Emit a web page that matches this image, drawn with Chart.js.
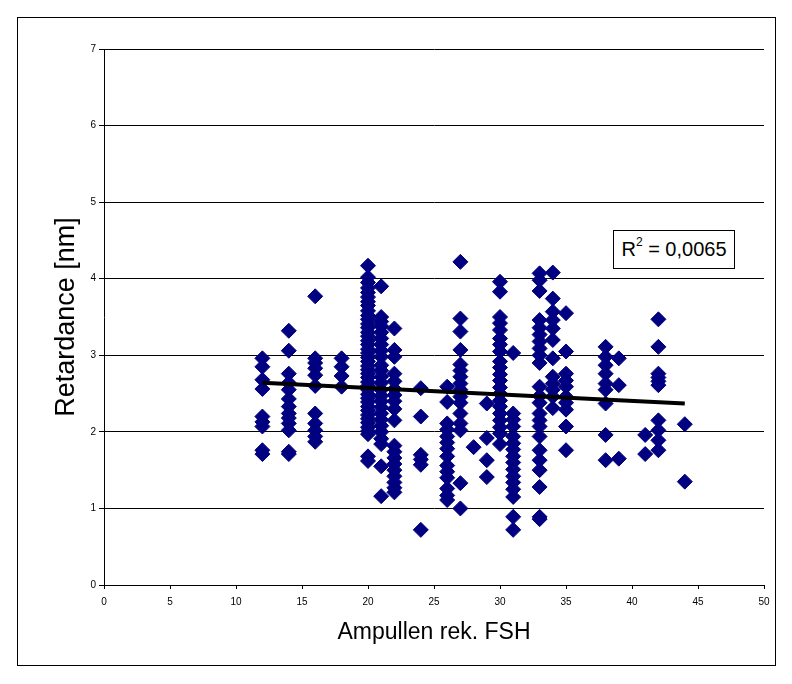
<!DOCTYPE html>
<html>
<head>
<meta charset="utf-8">
<script src="https://cdn.jsdelivr.net/npm/chart.js@4/dist/chart.umd.min.js"></script>
<style>
  html, body { margin: 0; padding: 0; background: #fff; }
  #wrap { position: relative; width: 792px; height: 684px; }
  #frame { position: absolute; left: 17px; top: 17px; width: 757px; height: 647px; border: 1px solid #000; pointer-events: none; }
  #r2 { position: absolute; left: 613px; top: 230px; width: 120px; height: 37px; border: 1px solid #000; background: #fff;
        font-family: "Liberation Sans", Arial, sans-serif; font-size: 20px; line-height: 37px; text-align: center; color: #000; }
  #r2 sup { font-size: 12px; line-height: 0; position: relative; top: -2px; }
</style>
</head>
<body>
<div id="wrap">
  <canvas id="c" width="792" height="684"></canvas>
  <div id="frame"></div>
  <div id="r2">R<sup>2</sup> = 0,0065</div>
</div>
<script>
// Doses (x categories) and retardance readings per dose
const doses = [12, 14, 16, 18, 20, 21, 22, 24, 26, 27, 28, 29, 30, 31, 33, 34, 35, 38, 39, 41, 42, 44];
const r12 = [2.96, 2.85, 2.68, 2.56, 2.20, 2.13, 2.07, 1.76, 1.71];
const r14 = [3.32, 3.06, 2.76, 2.64, 2.55, 2.43, 2.33, 2.24, 2.18, 2.11, 2.02, 1.74, 1.71];
const r16 = [3.77, 2.96, 2.90, 2.83, 2.74, 2.60, 2.24, 2.11, 2.02, 1.94, 1.87];
const r18 = [2.96, 2.85, 2.73, 2.59];
const r20 = [4.17, 4.02, 3.95, 3.88, 3.82, 3.76, 3.70, 3.65, 3.58, 3.52, 3.47, 3.41, 3.36, 3.30, 3.25, 3.19, 3.14, 3.08, 3.03, 2.97, 2.92, 2.86, 2.81, 2.76, 2.71, 2.65, 2.60, 2.55, 2.49, 2.44, 2.39, 2.33, 2.28, 2.22, 2.17, 2.12, 2.06, 2.01, 1.97, 1.68, 1.62];
const r21 = [3.90, 3.50, 3.44, 3.38, 3.30, 3.22, 3.14, 3.06, 2.98, 2.87, 2.80, 2.72, 2.64, 2.55, 2.47, 2.40, 2.32, 2.24, 2.16, 2.08, 2.00, 1.91, 1.84, 1.55, 1.16];
const r22 = [3.35, 3.07, 2.98, 2.76, 2.66, 2.56, 2.48, 2.40, 2.30, 2.15, 1.82, 1.74, 1.66, 1.58, 1.50, 1.42, 1.34, 1.27, 1.21];
const r24 = [2.57, 2.20, 1.70, 1.64, 1.57, 0.72];
const r26 = [2.59, 2.39, 2.11, 2.03, 1.94, 1.86, 1.78, 1.68, 1.56, 1.48, 1.40, 1.26, 1.17, 1.11];
const r27 = [4.22, 3.48, 3.31, 3.07, 2.88, 2.80, 2.72, 2.63, 2.55, 2.46, 2.38, 2.24, 2.11, 2.02, 1.33, 1.00];
const r28 = [1.80];
const r29 = [2.37, 1.92, 1.63, 1.41];
const r30 = [3.96, 3.83, 3.50, 3.42, 3.33, 3.22, 3.14, 3.05, 2.92, 2.84, 2.75, 2.67, 2.58, 2.50, 2.41, 2.33, 2.24, 2.15, 2.06, 1.98, 1.84];
const r31 = [3.03, 2.24, 2.16, 2.07, 1.94, 1.85, 1.77, 1.68, 1.60, 1.51, 1.42, 1.34, 1.25, 1.15, 0.89, 0.72];
const r33 = [4.07, 3.98, 3.84, 3.46, 3.36, 3.27, 3.18, 3.09, 3.00, 2.90, 2.59, 2.47, 2.38, 2.24, 2.15, 2.07, 1.94, 1.76, 1.63, 1.50, 1.28, 0.89, 0.86];
const r34 = [4.08, 3.74, 3.57, 3.46, 3.35, 3.20, 2.96, 2.72, 2.63, 2.55, 2.46, 2.31];
const r35 = [3.55, 3.05, 2.76, 2.67, 2.59, 2.46, 2.38, 2.29, 2.07, 1.76];
const r38 = [3.11, 2.98, 2.87, 2.76, 2.63, 2.55, 2.37, 1.96, 1.63];
const r39 = [2.96, 2.61, 1.65];
const r41 = [1.96, 1.71];
const r42 = [3.47, 3.11, 2.76, 2.71, 2.66, 2.61, 2.15, 2.02, 1.89, 1.76];
const r44 = [2.10, 1.35];
const groups = [r12, r14, r16, r18, r20, r21, r22, r24, r26, r27, r28, r29, r30, r31, r33, r34, r35, r38, r39, r41, r42, r44];

// Linear trend line end points (as drawn in the original)
const trendX = [12, 44];
const trendY = [2.64, 2.37];

// Tick settings
const xTicks = [0, 5, 10, 15, 20, 25, 30, 35, 40, 45, 50];
const yTicks = [0, 1, 2, 3, 4, 5, 6, 7];

const points = [];
doses.forEach((d, i) => groups[i].forEach(v => points.push({ x: d, y: v })));
const trend = trendX.map((x, i) => ({ x: x, y: trendY[i] }));

const FONT = '"Liberation Sans", Arial, sans-serif';

new Chart(document.getElementById('c'), {
  type: 'scatter',
  data: {
    datasets: [
      {
        type: 'line',
        data: trend,
        borderColor: '#000',
        borderWidth: 4,
        pointRadius: 0,
        fill: false,
        order: 0
      },
      {
        data: points,
        pointStyle: 'rectRot',
        pointRadius: 7.5,
        backgroundColor: '#000080',
        borderColor: '#000080',
        borderWidth: 1,
        order: 1
      }
    ]
  },
  options: {
    responsive: false,
    animation: false,
    devicePixelRatio: 1,
    layout: { padding: { left: 46, right: 28, top: 49, bottom: 34 } },
    plugins: { legend: { display: false }, tooltip: { enabled: false } },
    scales: {
      x: {
        type: 'linear',
        min: 0, max: 50,
        afterBuildTicks: s => { s.ticks = xTicks.map(v => ({ value: v })); },
        afterFit: s => { s.height = 65; },
        grid: { drawOnChartArea: false, color: '#000', tickLength: 4, lineWidth: 1 },
        border: { color: '#000', width: 1 },
        ticks: { color: '#000', font: { family: FONT, size: 10 }, padding: 7, maxRotation: 0 },
        title: { display: true, text: 'Ampullen rek. FSH', color: '#000', font: { family: FONT, size: 23 }, padding: { top: 4, bottom: 4 } }
      },
      y: {
        type: 'linear',
        min: 0, max: 7,
        afterBuildTicks: s => { s.ticks = yTicks.map(v => ({ value: v })); },
        afterFit: s => { s.width = 58; },
        grid: { color: '#000', tickLength: 5, lineWidth: 1 },
        border: { color: '#000', width: 1 },
        ticks: { color: '#000', font: { family: FONT, size: 10 }, padding: 3 },
        title: { display: true, text: 'Retardance [nm]', color: '#000', font: { family: FONT, size: 27 }, padding: { top: 4, bottom: 4 } }
      }
    }
  }
});
</script>
</body>
</html>
